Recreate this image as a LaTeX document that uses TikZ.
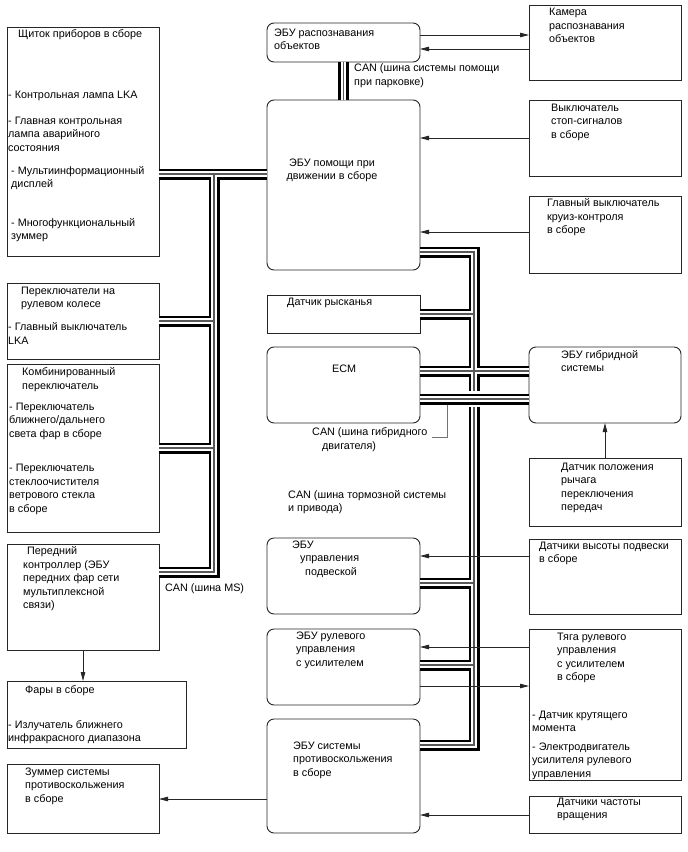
\documentclass[tikz,border=0pt]{standalone}
\usepackage{fontspec}
\setmainfont{Liberation Sans}
\usetikzlibrary{arrows.meta,calc}
\tikzset{
  box/.style={draw=black!85, line width=0.9pt, anchor=north west, inner sep=0pt, outer sep=0pt},
  rbox/.style={box, rounded corners=7pt},
  txt/.style={anchor=north west, inner sep=0pt, align=left, font=\fontsize{10.8}{13.5}\selectfont, execute at begin node=\rule{0pt}{8pt}},
  ctxt/.style={txt, anchor=north, align=center},
  arr/.style={line width=0.8pt, draw=black!85, -{Triangle[length=9pt,width=4.5pt]}},
  busA/.style={line width=11pt, black, line join=miter, line cap=butt},
  busB/.style={line width=5.6pt, white, line join=miter, line cap=butt},
  busC/.style={line width=1.1pt, black!65, line join=miter, line cap=butt},
  brk/.style={line width=0.9pt, black!55},
}
\newcommand\mybusL{(shch.east|-0,174) -- (ecuA.west|-0,174)
  (214,174) -- (214,572) -- (front.east|-0,572)
  (214,321) -- (pere.east|-0,321)
  (214,448) -- (komb.east|-0,448)}
\newcommand\mybusR{(ecuA.east|-0,252) -- (474,252) -- (474,745) -- (vsc.east|-0,745)
  (yaw.east|-0,314) -- (474,314)
  (ecm.east|-0,371) -- (hyb.west|-0,371)
  (susp.east|-0,583) -- (474,583)
  (eps.east|-0,665) -- (474,665)}
\newcommand\mybusP{(ecuR.south) -- (ecuA.north)}
\newcommand\mybusH{(ecm.east|-0,399) -- (hyb.west|-0,399)}
\begin{document}
\begin{tikzpicture}[x=1pt,y=-1pt]
\useasboundingbox[fill=white] (0,0) rectangle (688,852);
% left column
\node[box, minimum width=152, minimum height=229] (shch) at (7,27) {};
\node[box, minimum width=152, minimum height=76] (pere) at (7,283) {};
\node[box, minimum width=152, minimum height=168] (komb) at (7,364) {};
\node[box, minimum width=152, minimum height=106] (front) at (7,544) {};
\node[box, minimum width=179, minimum height=67] (fary) at (7,681) {};
\node[box, minimum width=152, minimum height=69] (zumm) at (7,764) {};
% middle column
\node[rbox, minimum width=153, minimum height=39] (ecuR) at (267,23) {};
\node[rbox, minimum width=153, minimum height=170] (ecuA) at (267,100) {};
\node[box, minimum width=153, minimum height=38] (yaw) at (267,295) {};
\node[rbox, minimum width=153, minimum height=76] (ecm) at (267,347) {};
\node[rbox, minimum width=153, minimum height=76] (susp) at (267,538) {};
\node[rbox, minimum width=153, minimum height=76] (eps) at (267,629) {};
\node[rbox, minimum width=153, minimum height=114] (vsc) at (267,719) {};
% right column
\node[box, minimum width=152, minimum height=75] (cam) at (529,5) {};
\node[box, minimum width=152, minimum height=76] (stop) at (529,100) {};
\node[box, minimum width=152, minimum height=77] (cruise) at (529,196) {};
\node[rbox, minimum width=152, minimum height=76] (hyb) at (529,347) {};
\node[box, minimum width=152, minimum height=68] (shift) at (529,458) {};
\node[box, minimum width=152, minimum height=75] (height) at (529,539) {};
\node[box, minimum width=152, minimum height=151] (rack) at (529,629) {};
\node[box, minimum width=152, minimum height=37] (speed) at (529,796) {};

% texts
\node[txt] (t1) at (18,29.5) {Щиток приборов в сборе};
\node[txt] (t2) at (8,90.5) {- Контрольная лампа LKA};
\node[txt] (t3) at (8,116.5) {- Главная контрольная\\лампа аварийного\\состояния};
\node[txt] (t4) at (11,166) {- Мультиинформационный\\дисплей};
\node[txt] (t5) at (11,218) {- Многофункциональный\\зуммер};
\node[txt] (t6) at (21,286.5) {Переключатели на\\рулевом колесе};
\node[txt] (t7) at (8,322.5) {- Главный выключатель\\LKA};
\node[txt] (t8) at (22,367.5) {Комбинированный\\переключатель};
\node[txt] (t9) at (9,402.5) {- Переключатель\\ближнего/дальнего\\света фар в сборе};
\node[txt] (t10) at (9,464) {- Переключатель\\стеклоочистителя\\ветрового стекла\\в сборе};
\node[txt] (t11) at (23,546.5) {\hspace*{4pt}Передний\\контроллер (ЭБУ\\передних фар сети\\мультиплексной\\связи)};
\node[txt] (t12) at (25,685.5) {Фары в сборе};
\node[txt] (t13) at (8,720) {- Излучатель ближнего\\инфракрасного диапазона};
\node[txt] (t14) at (25,767.5) {Зуммер системы\\противоскольжения\\в сборе};
\node[txt] (t15) at (274,28.5) {ЭБУ распознавания\\объектов};
\node[txt] (t16) at (354,63.5) {CAN (шина системы помощи\\при парковке)};
\node[ctxt] (t17) at (332,158.5) {ЭБУ помощи при\\движении в сборе};
\node[txt] (t18) at (287,297.5) {Датчик рысканья};
\node[txt] (t19) at (332,364.5) {ECM};
\node[txt] (t20) at (312,427.5) {CAN (шина гибридного\\\hspace*{10pt}двигателя)};
\node[txt] (t21) at (288,490) {CAN (шина тормозной системы\\и привода)};
\node[txt] (t22) at (292,540.5) {ЭБУ\\\hspace*{8pt}управления\\\hspace*{13pt}подвеской};
\node[txt] (t23) at (296,631.5) {ЭБУ рулевого\\управления\\с усилителем};
\node[txt] (t24) at (293,741.5) {ЭБУ системы\\противоскольжения\\в сборе};
\node[txt] (t25) at (549,8) {Камера\\распознавания\\объектов};
\node[txt] (t26) at (551,103.5) {Выключатель\\стоп-сигналов\\в сборе};
\node[txt] (t27) at (547,198.5) {Главный выключатель\\круиз-контроля\\в сборе};
\node[txt] (t28) at (561,350) {ЭБУ гибридной\\системы};
\node[txt] (t29) at (561,462.5) {Датчик положения\\рычага\\переключения\\передач};
\node[txt] (t30) at (539,541.5) {Датчики высоты подвески\\в сборе};
\node[txt] (t31) at (557,632.5) {Тяга рулевого\\управления\\с усилителем\\в сборе};
\node[txt] (t32) at (532,710.5) {- Датчик крутящего\\момента};
\node[txt] (t33) at (532,742.5) {- Электродвигатель\\усилителя рулевого\\управления};
\node[txt] (t34) at (557,797.5) {Датчики частоты\\вращения};
\node[txt] (t35) at (165,583.5) {CAN (шина MS)};

% buses
\draw[busA] \mybusL; \draw[busB] \mybusL; \draw[busC] \mybusL;
\draw[busA] \mybusR; \draw[busB] \mybusR; \draw[busC] \mybusR;
\draw[busA] \mybusP; \draw[busB] \mybusP; \draw[busC] \mybusP;
\fill[white] (465,391) rectangle (483,407);
\coordinate (hb) at (447,399);
\draw[brk] (hb) -- (447,437) -- (432,437);
\draw[busA] \mybusH; \draw[busB] \mybusH; \draw[busC] \mybusH;

% arrows
\draw[arr] (ecuR.east|-0,35) -- (cam.west|-0,35);
\draw[arr] (cam.west|-0,49) -- (ecuR.east|-0,49);
\draw[arr] (stop.west|-0,138) -- (ecuA.east|-0,138);
\draw[arr] (cruise.west|-0,232) -- (ecuA.east|-0,232);
\draw[arr] (shift.north-|605,0) -- (hyb.south-|605,0);
\draw[arr] (height.west|-0,556) -- (susp.east|-0,556);
\draw[arr] (rack.west|-0,647) -- (eps.east|-0,647);
\draw[arr] (eps.east|-0,686) -- (rack.west|-0,686);
\draw[arr] (speed.west|-0,815) -- (vsc.east|-0,815);
\draw[arr] (vsc.west|-0,799) -- (zumm.east|-0,799);
\draw[arr] (front.south-|83,0) -- (fary.north-|83,0);
\end{tikzpicture}
\end{document}
